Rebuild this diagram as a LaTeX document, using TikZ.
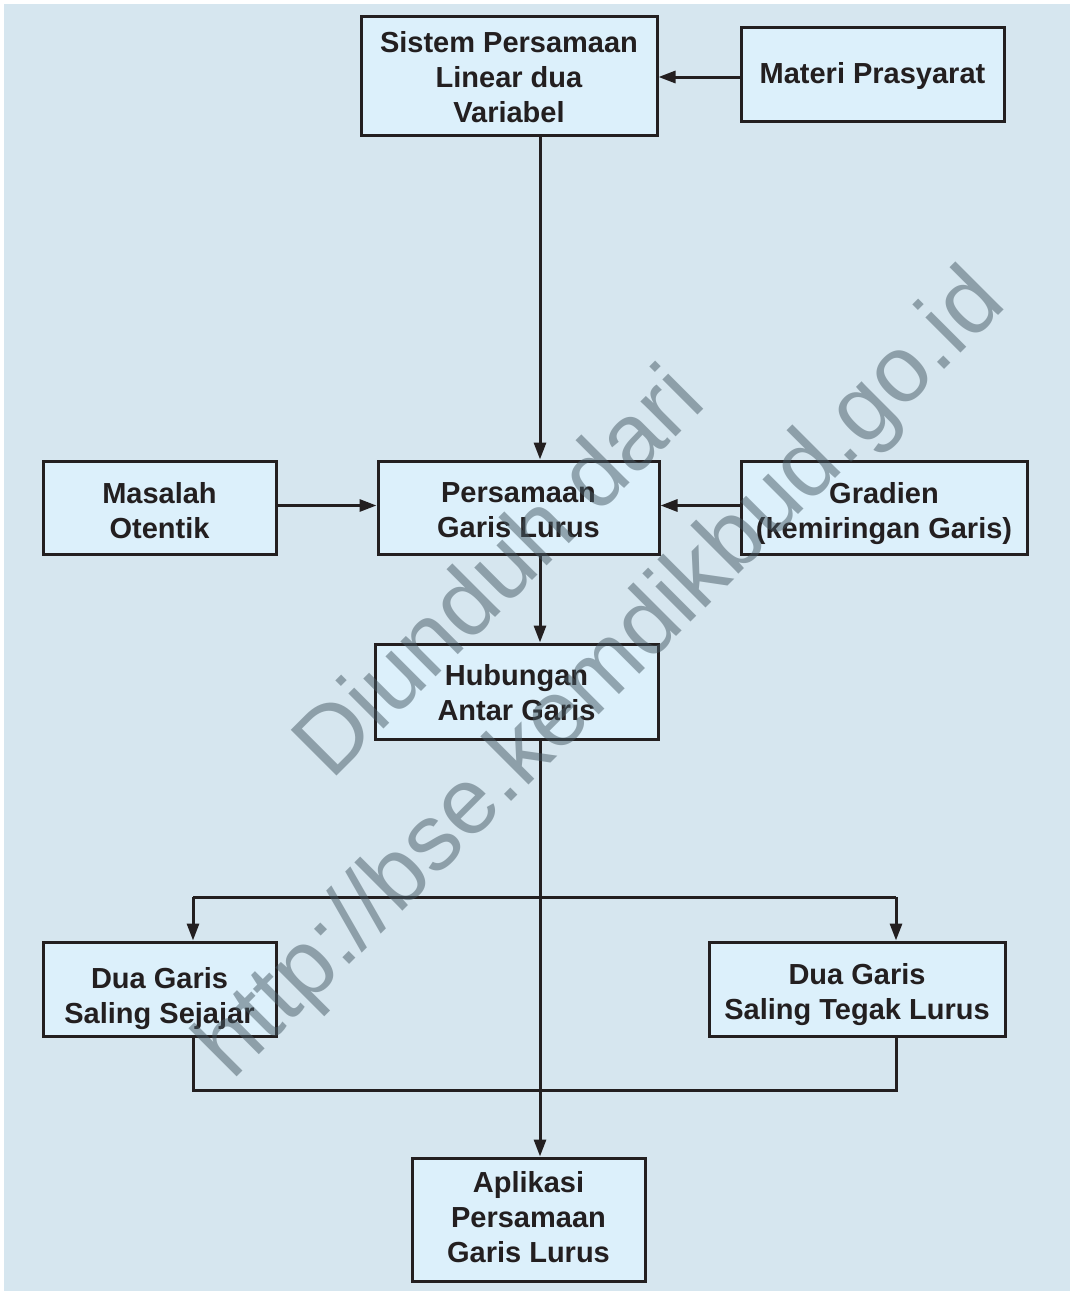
\documentclass[tikz,border=0pt]{standalone}
\usepackage{fontspec}
\setmainfont{Liberation Sans}
\usetikzlibrary{arrows.meta}
\definecolor{latar}{HTML}{D6E6EF}
\definecolor{isian}{HTML}{DCF0FB}
\definecolor{garis}{HTML}{231F20}
\definecolor{tanda}{RGB}{70,90,100}
\tikzset{
  konsep/.style={
    draw=garis,
    fill=isian,
    line width=3pt,
    inner sep=0pt,
    align=center,
    font=\fontsize{29}{35}\selectfont\bfseries,
    text=garis
  },
  turun/.style={text height=#1},
  panah/.style={
    draw=garis,
    line width=3pt,
    -{Triangle[length=17pt,width=12pt]}
  },
  sambung/.style={
    draw=garis,
    line width=3pt
  },
  watermark/.style={
    rotate=45,
    align=center,
    text=tanda,
    opacity=0.5,
    font=\fontsize{94}{142}\selectfont
  }
}

\begin{document}
\begin{tikzpicture}[x=1pt,y=-1pt]
  \useasboundingbox (0,0) rectangle (1070,1291);
  \fill[white] (0,0) rectangle (1070,1291);
  \fill[latar] (4,4) rectangle (1070,1291);

  \node[konsep, turun=95pt, minimum width=296pt, minimum height=119pt] (spldv) at (509,75.5) {Sistem Persamaan\\Linear dua\\Variabel};
  \node[konsep, turun=25pt, minimum width=263pt, minimum height=94pt] (prasyarat) at (872.5,74) {Materi Prasyarat};
  \node[konsep, turun=62pt, minimum width=233pt, minimum height=93pt] (masalah) at (159.5,507.5) {Masalah\\Otentik};
  \node[konsep, turun=60pt, minimum width=281pt, minimum height=93pt] (pgl) at (518.5,507.5) {Persamaan\\Garis Lurus};
  \node[konsep, turun=68pt, minimum width=286pt, minimum height=93pt] (gradien) at (884,507.5) {Gradien\\(kemiringan Garis)};
  \node[konsep, turun=58pt, minimum width=283pt, minimum height=95pt] (hubungan) at (516.5,691.5) {Hubungan\\Antar Garis};
  \node[konsep, turun=76pt, minimum width=233pt, minimum height=94pt] (sejajar) at (159.5,989) {Dua Garis\\Saling Sejajar};
  \node[konsep, turun=68pt, minimum width=296pt, minimum height=94pt] (tegak) at (857,989) {Dua Garis\\Saling Tegak Lurus};
  \node[konsep, turun=87pt, minimum width=233pt, minimum height=123pt] (aplikasi) at (528.5,1219.5) {Aplikasi\\Persamaan\\Garis Lurus};

  \coordinate (sumbu) at (540,0);
  \coordinate (kiri) at (193,897);
  \coordinate (kanan) at (896,897);
  \coordinate (bawah) at (540,1090);

  \draw[panah] ([yshift=-3pt]prasyarat.west) -- ([yshift=-3pt]prasyarat.west -| spldv.east);
  \draw[panah] (spldv.south -| sumbu) -- (pgl.north -| sumbu);
  \draw[panah] ([yshift=2pt]masalah.east) -- ([yshift=2pt]pgl.west);
  \draw[panah] ([yshift=2pt]gradien.west) -- ([yshift=2pt]pgl.east);
  \draw[panah] (pgl.south -| sumbu) -- (hubungan.north -| sumbu);
  \draw[panah] (hubungan.south -| sumbu) -- (aplikasi.north -| sumbu);
  \draw[sambung] (kiri) -- (kanan);
  \draw[panah] (kiri) -- (kiri |- sejajar.north);
  \draw[panah] (kanan) -- (kanan |- tegak.north);
  \draw[sambung] (kiri |- sejajar.south) |- (bawah) -| (kanan |- tegak.south);

  \node[watermark] (unduh) at (553,626) {Diunduh dari\\http://bse.kemdikbud.go.id};
\end{tikzpicture}
\end{document}
